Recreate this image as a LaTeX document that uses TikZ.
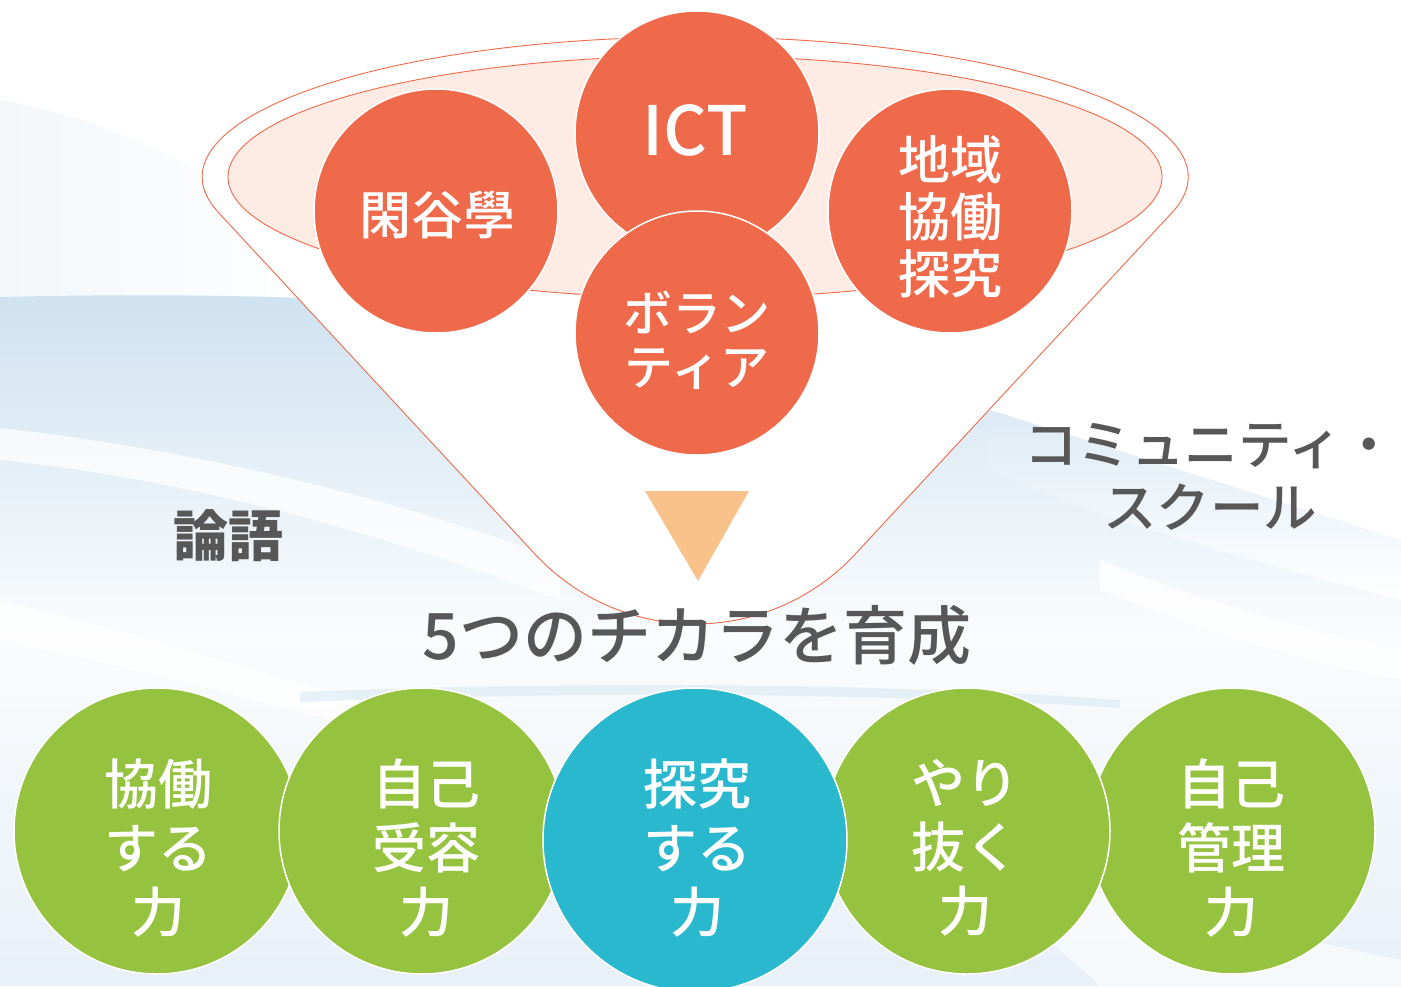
\documentclass[tikz,border=0pt]{standalone}
\usepackage{fontspec}
\newfontfamily\jp{Noto Sans CJK JP}
\newfontfamily\jpm{Noto Sans CJK JP Medium}
\definecolor{orangeC}{HTML}{EE6A4B}
\definecolor{pinkF}{HTML}{FDEBE4}
\definecolor{greenC}{HTML}{96C33F}
\definecolor{cyanC}{HTML}{29B8CD}
\definecolor{triC}{HTML}{F9C28B}
\definecolor{grayT}{HTML}{575757}
\definecolor{bgBlue}{HTML}{CFE2F0}
\definecolor{bgMid}{HTML}{E8F0F8}
\definecolor{bgPale}{HTML}{F3F7FA}
\tikzset{
  topc/.style={circle, fill=orangeC, draw=white, line width=1.5pt, minimum size=244pt, inner sep=0pt},
  greenc/.style={circle, fill=greenC, draw=white, line width=1.5pt, minimum size=286pt, inner sep=0pt},
  cyanc/.style={circle, fill=cyanC, draw=white, line width=1.5pt, minimum size=304pt, inner sep=0pt},
  toptext/.style={text=white, align=center, inner sep=0pt, font=\jpm\fontsize{52}{57}\selectfont},
  bottext/.style={text=white, align=center, inner sep=0pt, font=\jpm\fontsize{54}{64}\selectfont},
  graytext/.style={text=grayT, align=center, inner sep=0pt},
  funnelline/.style={draw=orangeC, line width=0.9pt},
}
\begin{document}
\begin{tikzpicture}[x=1pt,y=-1pt]
\useasboundingbox (0,0) rectangle (1401,986);
% ---------- background ----------
\fill[white] (0,0) rectangle (1401,986);
\shade[left color=bgPale, right color=white]
  (0,100) .. controls (120,120) and (230,180) .. (330,260) -- (330,300) -- (0,300) -- cycle;
\shade[top color=bgBlue, bottom color=bgMid, middle color=white!60!bgPale]
  (0,297) .. controls (300,290) and (700,300) .. (990,410) -- (1401,540) -- (1401,986) -- (0,986) -- cycle;
\shade[top color=bgBlue!70!white, bottom color=white]
  (990,410) -- (1401,540) -- (1401,600) .. controls (1250,560) and (1100,520) .. (990,470) -- cycle;
\fill[white, opacity=0.75]
  (0,428) .. controls (200,450) and (400,500) .. (560,560) -- (560,600) .. controls (400,540) and (200,480) .. (0,460) -- cycle;
\fill[white, opacity=0.8]
  (0,600) .. controls (120,630) and (250,670) .. (360,700) -- (330,720) .. controls (220,690) and (100,660) .. (0,640) -- cycle;
\fill[bgBlue, opacity=0.45]
  (300,692) .. controls (600,680) and (900,684) .. (1120,700) -- (1120,708) .. controls (900,694) and (600,690) .. (300,702) -- cycle;
\fill[white, opacity=0.8]
  (1100,560) .. controls (1200,600) and (1300,630) .. (1401,650) -- (1401,680) .. controls (1300,660) and (1200,630) .. (1100,590) -- cycle;
\fill[white, opacity=0.6]
  (980,870) .. controls (1150,900) and (1300,940) .. (1401,960) -- (1401,986) -- (1100,986) .. controls (1050,940) and (1000,900) .. (980,870) -- cycle;
% ---------- funnel ----------
\path[fill=white, funnelline]
  (218,212) arc[start angle=165.5, end angle=374.5, x radius=493, y radius=140]
  -- (855.4,553.9) arc[start angle=42.8, end angle=137.2, radius=218.5] -- cycle;
\path[fill=pinkF, funnelline] (695,177) ellipse[x radius=467, y radius=121];
% ---------- orange circles ----------
\node[topc] (kan) at (436,211) {};
\node[topc] (ict) at (697,133) {};
\node[topc] (chi) at (950,211) {};
\node[topc] (vol) at (697,333) {};
\node[toptext] (kant) at (437,215) {閑谷學};
\node[toptext, font=\jpm\fontsize{68}{68}\selectfont] (ictt) at (695,130) {ICT};
\node[toptext] (chit) at (950,217) {地域\\協働\\探究};
\node[toptext, font=\jpm\fontsize{49}{54}\selectfont] (volt) at (697,340) {ボラン\\ティア};
% ---------- triangle ----------
\fill[triC] (645,491) -- (749,491) -- (698,581) -- cycle;
% ---------- labels ----------
\node[graytext, font=\jp\bfseries\fontsize{55}{55}\selectfont] (rongo) at (228,536) {論語};
\node[graytext, font=\jpm\fontsize{53.5}{63}\selectfont] (cs) at (1210,477) {コミュニティ・\\スクール};
\node[graytext, font=\jpm\fontsize{64}{64}\selectfont] (title) at (697,635) {5つのチカラを育成};
% ---------- bottom circles ----------
\node[greenc] (c1) at (157,831) {};
\node[greenc] (c5) at (1232,831) {};
\node[greenc] (c2) at (422,831) {};
\node[greenc] (c4) at (967,831) {};
\node[cyanc]  (c3) at (695,840) {};
\node[bottext] (t1) at (158,848) {協働\\する\\力};
\node[bottext] (t2) at (426,848) {自己\\受容\\力};
\node[bottext] (t3) at (697,848) {探究\\する\\力};
\node[bottext] (t4) at (965,848) {やり\\抜く\\力};
\node[bottext] (t5) at (1231,848) {自己\\管理\\力};
\end{tikzpicture}
\end{document}
